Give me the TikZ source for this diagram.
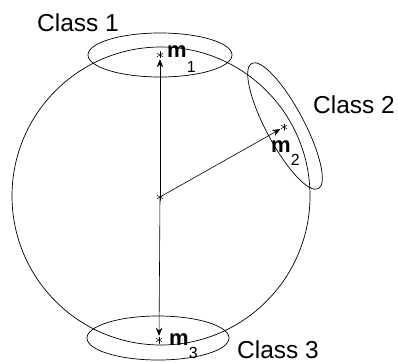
\documentclass[tikz,border=0pt]{standalone}
\usepackage{fontspec}
\setmainfont{Liberation Sans}
\usetikzlibrary{arrows.meta}
\tikzset{
  starpt/.style={circle, inner sep=0pt, minimum size=8pt,
    path picture={
      \foreach \a in {90,30,-30}
        \draw[line width=0.5pt] ([shift={(\a:3.5pt)}]path picture bounding box.center)
          -- ([shift={(\a+180:3.5pt)}]path picture bounding box.center);
    }},
  classlbl/.style={anchor=base west, inner sep=0pt, font=\fontsize{24.5}{28}\selectfont},
  meanlbl/.style={anchor=base west, inner sep=0pt, font=\fontsize{22}{25}\selectfont\bfseries},
  meanarr/.style={-{Stealth[length=8pt,width=6.5pt]}, line width=0.6pt}
}
\newcommand{\meansub}[2][13pt]{\raisebox{-#1}{\fontsize{16}{16}\selectfont\mdseries #2}}
\begin{document}
\begin{tikzpicture}[x=1pt,y=1pt]
        \useasboundingbox (0,0) rectangle (398,362);
        % Draw sphere
        \draw[line width=0.7pt] (161,166) circle (149);
        % Draw class ellipses
        \draw[line width=0.7pt] (160,307) ellipse [x radius=72, y radius=22];
        \draw[line width=0.7pt, rotate around={-62:(285,236)}] (285,236) ellipse [x radius=71, y radius=19];
        \draw[line width=0.7pt] (158,24) ellipse [x radius=71, y radius=22];
        % Centre and class means
        \node[starpt] (c) at (160,165) {};
        \node[starpt] (m1) at (160,307) {};
        \node[starpt] (m2) at (284,235) {};
        \node[starpt] (m3) at (159,22) {};
        % Draw mean vectors
        \draw[meanarr] (c.center) -- (m1);
        \draw[meanarr] (c.center) -- (m2);
        \draw[meanarr] (c.center) -- (m3);
        % Label means
        \node[meanlbl] (l1) at (167,304) {m\meansub[15pt]{1}};
        \node[meanlbl] (l2) at (271,210) {m\meansub{2}};
        \node[meanlbl] (l3) at (169,17) {m\meansub{3}};
        % Label classes
        \node[classlbl] (k1) at (37,330) {Class 1};
        \node[classlbl] (k2) at (313,249) {Class 2};
        \node[classlbl] (k3) at (237,4) {Class 3};
    \end{tikzpicture}
\end{document}
